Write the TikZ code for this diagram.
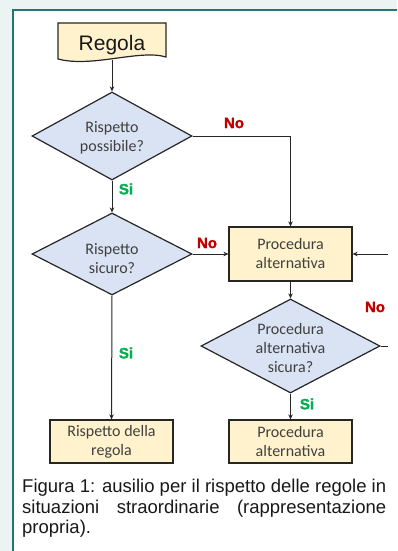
\documentclass[tikz,border=0pt]{standalone}
\usepackage{fontspec}
\setmainfont{Liberation Sans}
\newfontfamily\calfont{Carlito}
\newfontfamily\blackfont[BoldFeatures={FakeBold=1.6}]{Liberation Sans}
\usetikzlibrary{shapes.geometric,arrows.meta}
\definecolor{bgcol}{HTML}{EBF4F3}
\definecolor{teal}{HTML}{1F7874}
\definecolor{boxyellow}{HTML}{FFF2CC}
\definecolor{diablue}{HTML}{DAE3F3}
\definecolor{txtgray}{HTML}{404040}
\definecolor{nored}{HTML}{C00000}
\definecolor{sigreen}{HTML}{00B050}
\begin{document}
\begin{tikzpicture}[x=1pt,y=-1pt,
  boxnode/.style={draw=black!85, line width=1.2pt, fill=boxyellow, inner sep=0pt,
    minimum width=123pt, align=center, text=txtgray,
    font=\calfont\fontsize{16}{19}\selectfont},
  dianode/.style={diamond, draw=black!85, line width=1.2pt, fill=diablue, inner sep=0pt},
  diatext/.style={align=center, text=txtgray, inner sep=0pt,
    font=\calfont\fontsize{16}{19}\selectfont},
  nolbl/.style={text=nored, inner sep=0pt, font=\blackfont\bfseries\fontsize{15}{15}\selectfont},
  silbl/.style={text=sigreen, inner sep=0pt, font=\blackfont\bfseries\fontsize{15}{15}\selectfont},
  arr/.style={line width=1pt, draw=black!85, -{Stealth[length=5pt,width=4.5pt]}},
  ln/.style={line width=1pt, draw=black!85}]
\useasboundingbox (0,0) rectangle (397,551);
\clip (0,0) rectangle (397,551);
\fill[bgcol] (0,0) rectangle (397,551);
\draw[teal, line width=2pt, fill=white] (13,10) rectangle (420,580);

% Regola (document shape)
\draw[draw=black!85, line width=1.2pt, fill=boxyellow]
  (58,23) -- (166,23) -- (166,57) .. controls (140,49) and (92,68) .. (58,59) -- cycle;
\node[inner sep=0pt, font=\fontsize{21}{21}\selectfont, text=black!90] (regola) at (112,45) {Regola};
\coordinate (regbot) at (112,60);

% Diamonds
\node[dianode, minimum width=160pt, minimum height=88pt] (d1) at (112,136) {};
\node[diatext] (d1t) at (112,138) {Rispetto\\possibile?};
\node[dianode, minimum width=160pt, minimum height=82pt] (d2) at (112,254) {};
\node[diatext] (d2t) at (112,259) {Rispetto\\sicuro?};
\node[dianode, minimum width=179pt, minimum height=94pt] (d3) at (290.5,346) {};
\node[diatext] (d3t) at (290.5,348) {Procedura\\alternativa\\sicura?};

% Boxes
\node[boxnode, minimum height=54pt] (b1) at (290.5,254) {Procedura\\alternativa};
\node[boxnode, minimum height=43pt] (b2) at (111.5,441.5) {Rispetto della\\regola};
\node[boxnode, minimum height=43pt] (b3) at (290.5,441.5) {Procedura\\alternativa};

% Free ends on the right
\coordinate (rin) at (388,254);
\coordinate (rout) at (388,346);

% Connectors
\draw[arr] (regbot) -- (d1.north);
\draw[arr] (d1.east) -| (b1.north);
\draw[arr] (d1.south) -- (d2.north);
\draw[arr] (d2.east) -- (b1.west);
\draw[arr] (d2.south) -- (b2.north);
\draw[arr] (b1.south) -- (d3.north);
\draw[arr] (d3.south) -- (b3.north);
\draw[arr] (rin) -- (b1.east);
\draw[ln] (d3.east) -- (rout);

% Labels
\node[nolbl] (no1) at (234,123) {No};
\node[silbl] (si1) at (126,189) {Si};
\node[nolbl] (no2) at (207,243) {No};
\node[silbl] (si2) at (126,353) {Si};
\node[nolbl] (no3) at (375,307) {No};
\node[silbl] (si3) at (307,404) {Si};

% Caption
\node[anchor=north west, inner sep=0pt, text width=364pt, align=justify, text=black!90,
  font=\fontsize{18.5}{20.5}\selectfont] (cap) at (22,479)
  {Figura 1: ausilio per il rispetto delle regole in\linebreak
   situazioni straordinarie (rappresentazione\linebreak propria).};
\end{tikzpicture}
\end{document}
